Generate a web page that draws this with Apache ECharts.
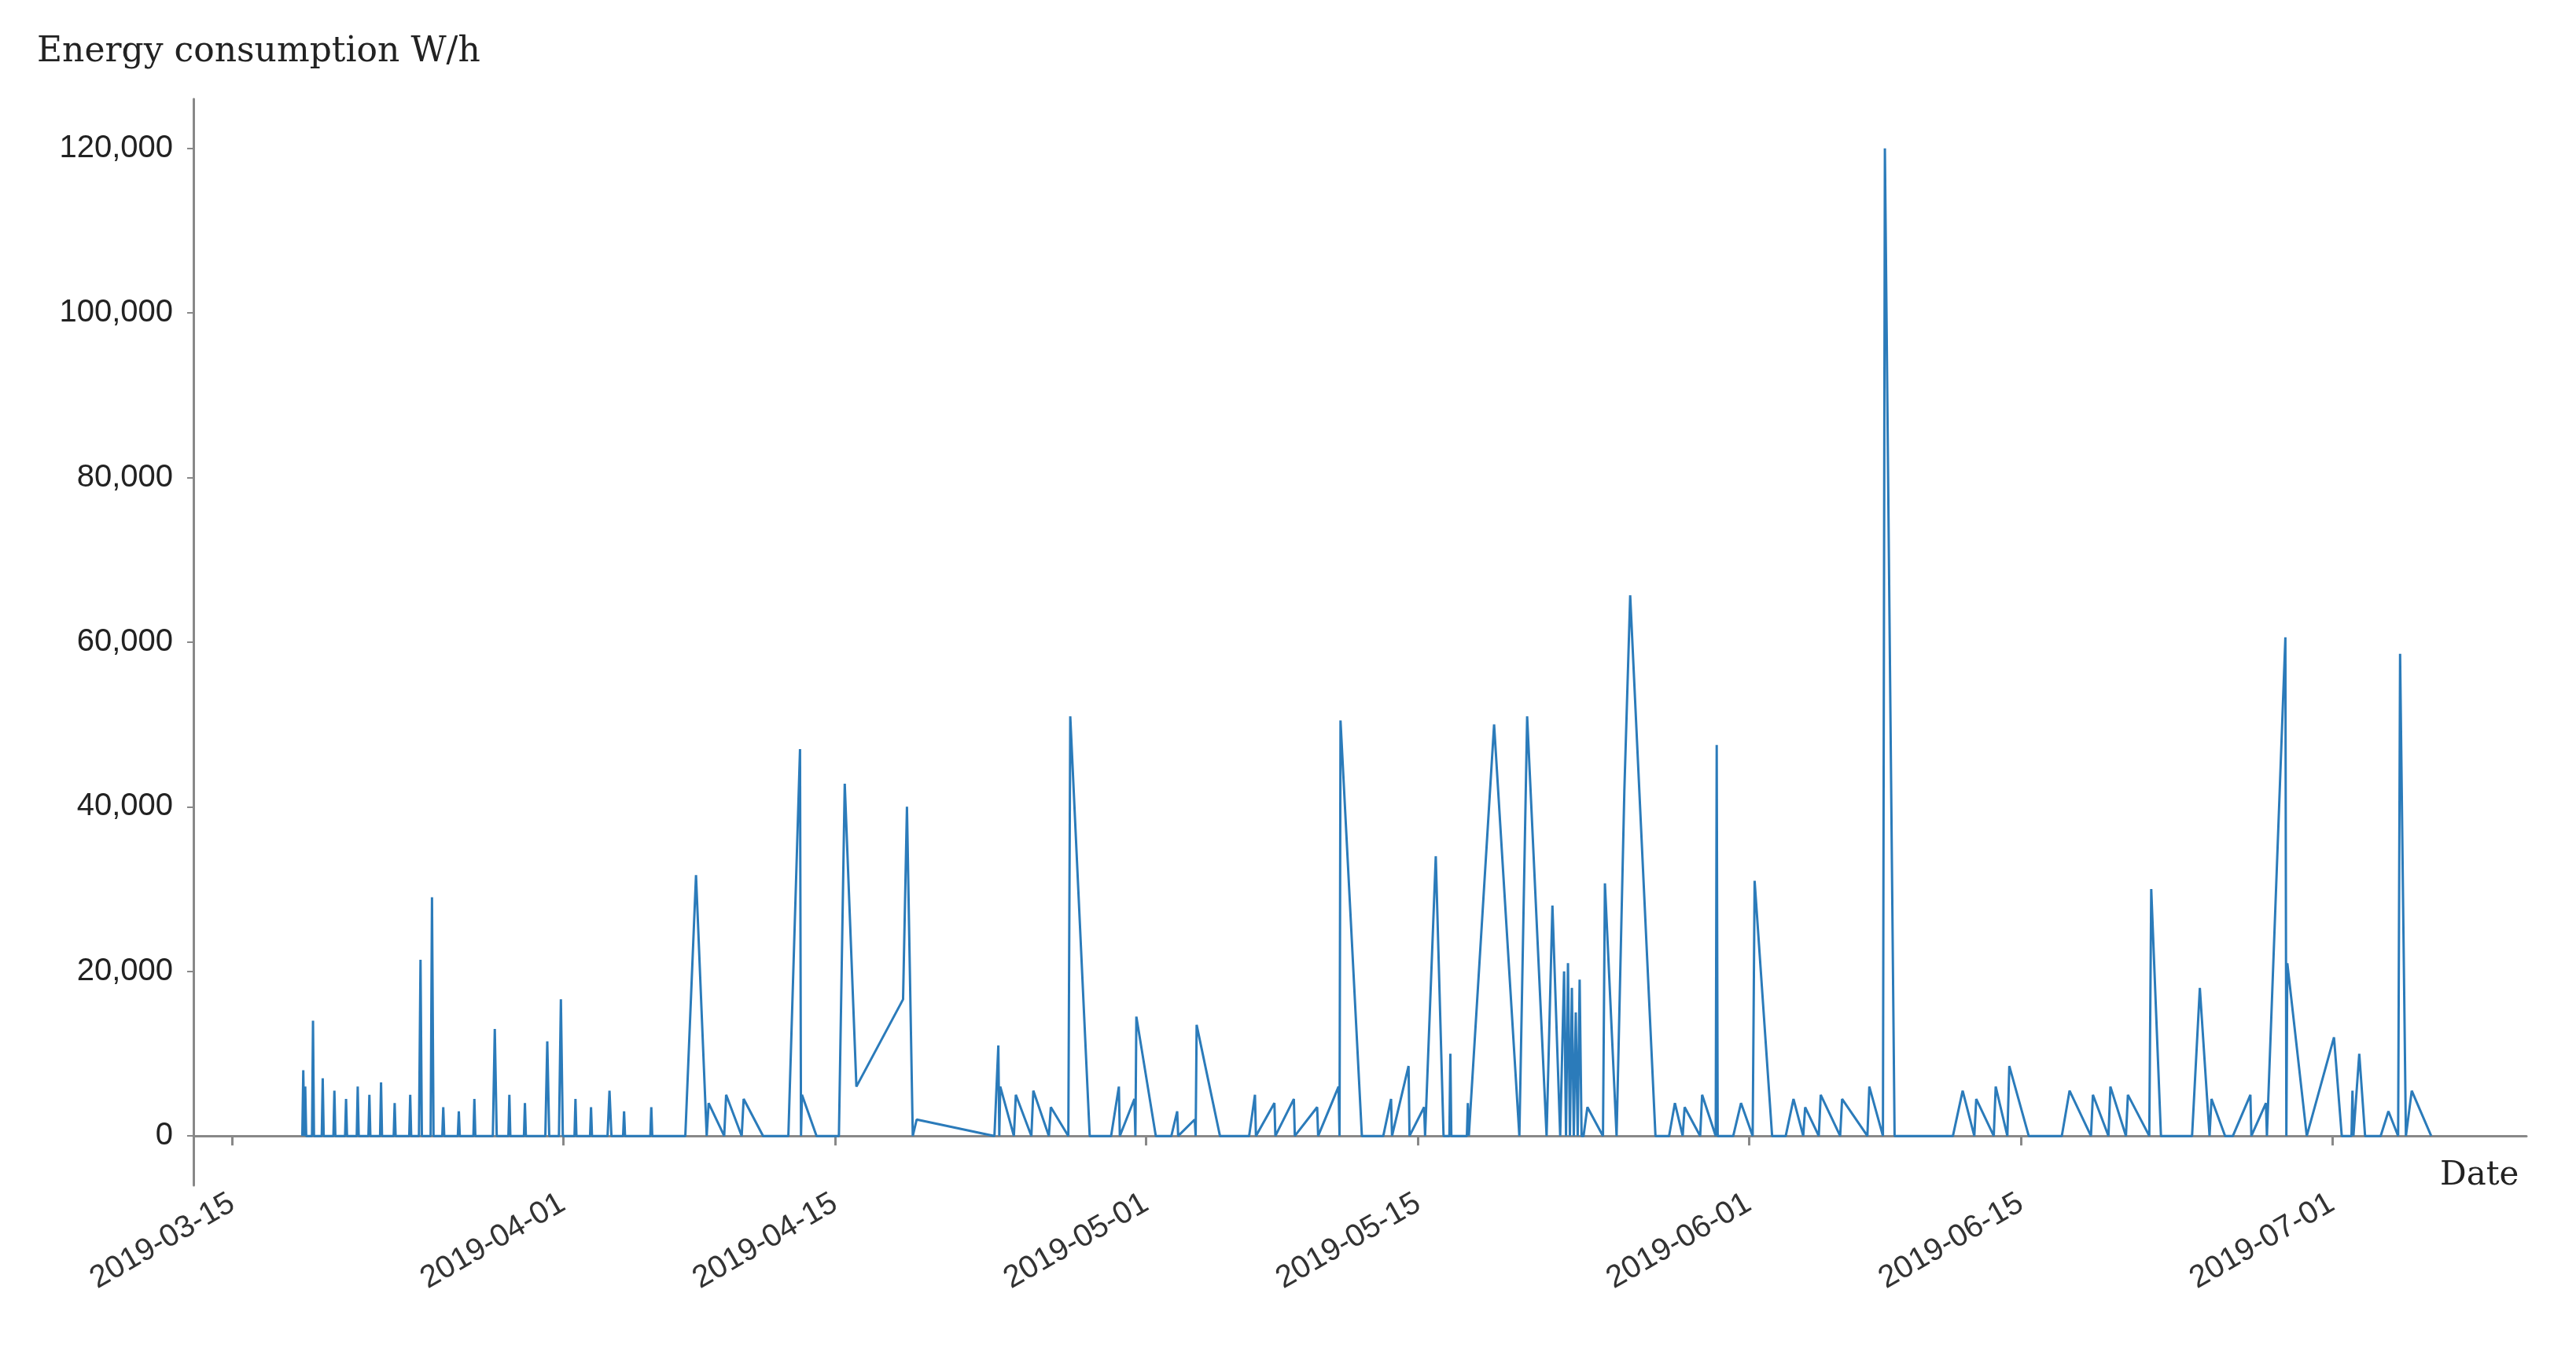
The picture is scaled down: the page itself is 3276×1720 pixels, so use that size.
<!DOCTYPE html>
<html>
<head>
<meta charset="utf-8">
<script src="https://cdn.jsdelivr.net/npm/echarts@6/dist/echarts.min.js"></script>
<style>html,body{margin:0;background:#fff}#main{width:3276px;height:1720px}</style>
</head>
<body>
<div id="main"></div>
<script>
// days after 2019-03-15, energy in W
var days = [3.6,3.65,3.7,3.75,3.8,4.1,4.15,4.2,4.6,4.65,4.7,5.2,5.25,5.3,5.8,5.85,5.9,6.4,6.45,6.5,7.0,7.05,7.1,7.6,7.65,7.7,8.3,8.35,8.4,9.1,9.15,9.2,9.6,9.68,9.75,10.2,10.27,10.35,10.8,10.85,10.9,11.6,11.65,11.7,12.4,12.45,12.5,13.4,13.5,13.6,14.2,14.25,14.3,15.0,15.05,15.1,16.1,16.2,16.3,16.8,16.9,17.0,17.6,17.65,17.7,18.4,18.45,18.5,19.3,19.4,19.5,20.1,20.15,20.2,21.5,21.55,21.6,23.3,23.85,24.4,24.45,24.5,25.3,25.35,25.4,26.2,26.25,26.3,27.3,28.6,29.2,29.25,29.3,30.05,31.2,31.5,32.1,34.5,34.7,35.0,35.05,35.2,
39.2,39.4,39.45,39.5,40.2,40.25,40.3,41.1,41.15,41.2,42.0,42.05,42.1,43.0,43.05,43.1,44.1,45.2,45.6,45.65,45.7,46.4,46.45,46.5,47.5,48.3,48.6,48.65,48.7,49.5,49.55,49.6,50.8,52.3,52.6,52.65,52.7,53.6,53.65,53.7,54.6,54.65,54.7,55.8,55.85,55.9,56.9,56.95,57.0,58.1,59.2,59.6,59.65,59.7,60.5,60.55,60.6,61.3,61.35,61.4,61.9,62.3,62.6,62.65,62.7,63.5,63.55,63.6,64.9,66.2,66.6,67.6,67.9,68.3,68.5,68.6,68.7,68.8,68.9,69.0,69.1,69.2,69.3,69.4,69.5,69.7,70.5,70.55,70.6,71.2,71.6,71.9,73.2,73.9,74.2,74.6,74.65,74.7,75.5,75.55,75.6,76.3,76.35,76.4,77.2,77.6,78.2,78.25,78.3,79.2,79.9,80.3,80.8,80.85,80.9,81.6,81.65,81.7,82.7,82.75,82.8,84.1,84.15,84.2,84.9,84.95,85.0,85.5,88.5,89.0,89.6,89.65,89.7,90.6,90.65,90.7,91.3,91.35,91.4,92.4,94.1,94.5,95.6,95.65,95.7,96.5,96.55,96.6,97.4,97.45,97.5,98.6,98.65,98.7,99.2,100.8,101.2,101.7,101.75,101.8,102.5,102.9,103.8,103.85,103.9,104.6,104.65,104.7,105.6,105.65,105.7,106.7,108.1,108.5,109.0,109.05,109.1,109.4,109.7,110.5,110.9,111.4,111.45,111.5,111.8,112.1,113.1,113.15,113.2,114.1,115.2,115.4,115.5,115.6];
var energy = [0,8000,0,6000,0,0,14000,0,0,7000,0,0,5500,0,0,4500,0,0,6000,0,0,5000,0,0,6500,0,0,4000,0,0,5000,0,0,21400,0,0,29000,0,0,3500,0,0,3000,0,0,4500,0,0,13000,0,0,5000,0,0,4000,0,0,11500,0,0,16600,0,0,4500,0,0,3500,0,0,5500,0,0,3000,0,0,3500,0,0,31700,0,0,4000,0,0,5000,0,0,4500,0,0,47000,0,5000,0,0,42800,6000,16600,40000,0,0,2000,0,
11000,0,6000,0,0,5000,0,0,5500,0,0,3500,0,0,51000,0,0,6000,0,0,4500,0,14500,0,0,3000,0,0,2000,0,13500,0,0,5000,0,0,4000,0,0,4500,0,0,3500,0,0,6000,0,50500,0,0,4500,0,0,8500,0,0,3500,0,0,34000,0,0,10000,0,0,4000,0,50000,0,51000,0,28000,0,20000,0,21000,0,18000,0,15000,0,19000,0,0,3500,0,0,30700,0,42000,65700,0,0,4000,0,0,3500,0,0,5000,0,47500,0,0,4000,0,0,31000,0,0,4500,0,0,3500,0,0,5000,0,0,4500,0,0,6000,0,0,120000,0,0,5500,0,0,4500,0,0,6000,0,0,8500,0,0,5500,0,0,5000,0,0,6000,0,0,5000,0,0,30000,0,0,18000,0,0,4500,0,0,5000,0,0,4000,0,0,60600,0,21000,0,12000,0,0,5500,0,10000,0,0,3000,0,0,58600,0,5500,0];

var base = new Date(2019, 2, 15).getTime();
var dayMs = 86400000;
var tickDates = ['2019-03-15','2019-04-01','2019-04-15','2019-05-01','2019-05-15','2019-06-01','2019-06-15','2019-07-01'];
var yTicks = [0,20000,40000,60000,80000,100000,120000];

var seriesData = [];
for (var i = 0; i < Math.min(days.length, energy.length); i++) {
    seriesData.push([base + days[i] * dayMs, energy[i]]);
}
var tickVals = tickDates.map(function(s) {
    var p = s.split('-');
    return new Date(+p[0], +p[1] - 1, +p[2]).getTime();
});

function pad(n) { return n < 10 ? '0' + n : '' + n; }

var chart = echarts.init(document.getElementById('main'));
chart.setOption({
    animation: false,
    title: {
        text: 'Energy consumption W/h',
        left: 42, top: 40,
        textStyle: {fontFamily: 'DejaVu Serif', fontWeight: 'normal', fontSize: 44, color: '#222'}
    },
    grid: {left: 246, right: 63, top: 126, bottom: 212},
    xAxis: {
        type: 'value',
        min: base - 2 * dayMs,
        max: base + 118 * dayMs,
        name: 'Date',
        nameLocation: 'end',
        nameGap: -110,
        nameTextStyle: {fontFamily: 'DejaVu Serif', fontSize: 42, color: '#222', verticalAlign: 'top', padding: [30, 0, 0, 0]},
        axisLine: {lineStyle: {color: '#888', width: 3}},
        axisTick: {show: true, customValues: tickVals, length: 12, lineStyle: {color: '#888', width: 3}},
        axisLabel: {
            customValues: tickVals, rotate: 30, fontSize: 40, color: '#333', margin: 20,
            formatter: function(v) {
                var d = new Date(v);
                return d.getFullYear() + '-' + pad(d.getMonth() + 1) + '-' + pad(d.getDate());
            }
        },
        splitLine: {show: false}
    },
    yAxis: {
        type: 'value',
        min: -6000, max: 126000,
        axisLine: {show: true, lineStyle: {color: '#888', width: 3}},
        axisTick: {show: true, customValues: yTicks, length: 8, lineStyle: {color: '#888', width: 2}},
        axisLabel: {
            customValues: yTicks, fontSize: 40, color: '#222', margin: 26,
            formatter: function(v) { return v.toLocaleString('en-US'); }
        },
        splitLine: {show: false}
    },
    series: [{
        type: 'line',
        data: seriesData,
        showSymbol: false,
        lineStyle: {color: '#2b7bba', width: 3}
    }]
});
</script>
</body>
</html>
